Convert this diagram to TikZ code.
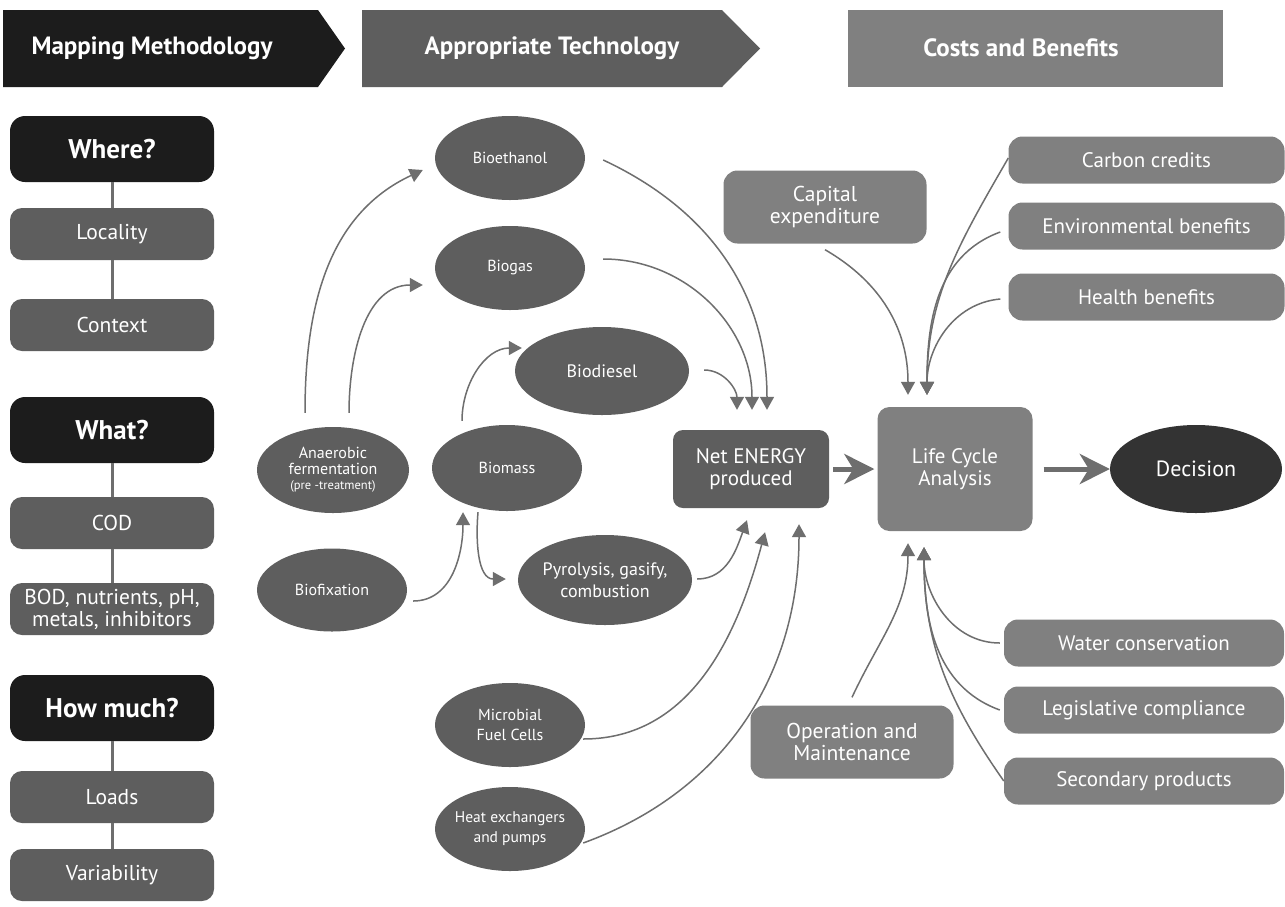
\documentclass[tikz,border=0pt]{standalone}
\usepackage{fontspec}
\setmainfont{PT Sans}
\usepackage{tikz}
\usetikzlibrary{arrows.meta}
\usetikzlibrary{shapes.geometric}
\usetikzlibrary{positioning}

\definecolor{inkblack}{HTML}{1C1C1C}
\definecolor{darkgrey}{HTML}{5E5E5E}
\definecolor{midgrey}{HTML}{808080}
\definecolor{coalgrey}{HTML}{333333}
\definecolor{linegrey}{HTML}{6E6E6E}

\begin{document}
\begin{tikzpicture}[x=1pt, y=1pt, text=white,
    banner/.style={font=\bfseries\fontsize{25}{27}\selectfont},
    askbox/.style={fill=inkblack, rounded corners=15pt, minimum width=204pt, minimum height=66pt, inner sep=0pt, font=\bfseries\fontsize{27}{29}\selectfont},
    factbox/.style={fill=darkgrey, rounded corners=12pt, minimum width=204pt, minimum height=52pt, inner sep=0pt, align=center, font=\fontsize{21.5}{22}\selectfont},
    blob/.style={ellipse, fill=darkgrey, minimum width=150pt, minimum height=84pt, inner sep=-6pt, align=center, font=\fontsize{16}{20}\selectfont},
    costbox/.style={fill=midgrey, rounded corners=14pt, minimum width=203pt, minimum height=73pt, inner sep=0pt, align=center, font=\fontsize{21.5}{22}\selectfont},
    gainbox/.style={fill=midgrey, rounded corners=14pt, minimum width=276pt, minimum height=47pt, inner sep=0pt, font=\fontsize{21}{22}\selectfont},
    feed/.style={draw=linegrey, line width=1.5pt, -{Triangle[length=13pt,width=14pt]}},
    bigfeed/.style={draw=linegrey, line width=5pt, -{Stealth[length=30pt,width=30pt,inset=9pt]}},
    stem/.style={draw=linegrey, line width=3pt}]
  \path[fill=white, use as bounding box] (0,0) rectangle (1285,-906);

  \fill[inkblack] (3,-10) -- (318,-10) -- (345,-48.5) -- (318,-87) -- (3,-87) -- cycle;
  \node[banner] (mapping) at (152,-48) {Mapping Methodology};
  \fill[darkgrey] (362,-10) -- (722,-10) -- (760,-48.5) -- (722,-87) -- (362,-87) -- cycle;
  \node[banner] (approp) at (552,-48) {Appropriate Technology};
  \fill[midgrey] (848,-10) rectangle (1223,-87);
  \node[banner] (costs) at (1021,-48) {Costs and Benefits};

  \foreach \n/\y/\t in {where/149/Where?, what/430/What?, howmuch/708/How much?}{
    \node[askbox] (\n) at (112,-\y) {\t};
  }
  \foreach \n/\y/\t in {locality/234/Locality, context/325/Context, cod/523/COD,
      bod/609/{BOD, nutrients, pH,\\metals, inhibitors}, loads/797/Loads, variab/875/Variability}{
    \node[factbox] (\n) at (112,-\y) {\t};
  }
  \foreach \a/\b in {where/locality, locality/context, what/cod, cod/bod, howmuch/loads, loads/variab}{
    \draw[stem] (\a.south) -- (\b.north);
  }

  \node[blob] (etoh) at (510,-158) {Bioethanol};
  \node[blob] (biogas) at (510,-268) {Biogas};
  \node[blob, minimum width=174pt, minimum height=88pt, font=\fontsize{18}{20}\selectfont] (diesel) at (602,-371) {Biodiesel};
  \node[blob, minimum width=152pt, minimum height=86pt, font=\fontsize{16}{15.5}\selectfont] (anaer) at (333,-470)
    {Anaerobic\\fermentation\\{\fontsize{12.5}{13}\selectfont(pre -treatment)}};
  \node[blob, minimum height=86pt] (biomass) at (507,-468) {Biomass};
  \node[blob, minimum height=83pt] (biofix) at (332,-590) {Biofixation};
  \node[blob, minimum width=174pt, minimum height=90pt, font=\fontsize{18}{22}\selectfont] (pyro) at (605,-580) {Pyrolysis, gasify,\\combustion};
  \node[blob] (mfc) at (510,-725) {Microbial\\Fuel Cells};
  \node[blob, font=\fontsize{15.5}{20}\selectfont] (heatex) at (510,-829) {Heat exchangers\\and pumps};

  \node[fill=darkgrey, rounded corners=10pt, minimum width=156pt, minimum height=78pt, inner sep=0pt, align=center,
    font=\fontsize{21}{22}\selectfont] (net) at (751,-469) {Net ENERGY\\produced};
  \node[fill=midgrey, rounded corners=12pt, minimum width=155pt, minimum height=124pt, inner sep=0pt, align=center,
    font=\fontsize{21}{22}\selectfont] (lca) at (955,-469) {Life Cycle\\Analysis};
  \node[ellipse, fill=coalgrey, minimum width=172pt, minimum height=88pt, inner sep=0pt,
    font=\fontsize{22}{24}\selectfont] (decision) at (1196,-469) {Decision};
  \node[costbox] (capex) at (825,-207) {Capital\\expenditure};
  \node[costbox] (opmaint) at (852,-742) {Operation and\\Maintenance};

  \foreach \n/\y/\t in {carbon/160/Carbon credits, envir/226/Environmental benefits, health/297/Health benefits}{
    \node[gainbox] (\n) at (1146.5,-\y) {\t};
  }
  \foreach \n/\y/\t in {water/643/Water conservation, legis/710/Legislative compliance, second/781/Secondary products}{
    \node[gainbox, minimum width=280pt] (\n) at (1144,-\y) {\t};
  }

  \draw[feed] ([shift={(-28,14)}]anaer.north) to[out=90,in=205] ([shift={(-12,-12)}]etoh.west);
  \draw[feed] ([shift={(16,14)}]anaer.north) to[out=90,in=180] ([shift={(-12,-17)}]biogas.west);
  \draw[feed] ([shift={(-45,4)}]biomass.north) to[out=90,in=180] ([shift={(7,23)}]diesel.west);
  \draw[feed] ([shift={(6,-11)}]biofix.east) to[out=0,in=-90] ([shift={(-44,-1)}]biomass.south);
  \draw[feed] ([shift={(-29,-1)}]biomass.south) to[out=-95,in=180] ([shift={(-12,1)}]pyro.west);

  \draw[feed] ([shift={(18,-2)}]etoh.east) to[out=-25,in=90] ([shift={(16,20)}]net.north);
  \draw[feed] ([shift={(18,9)}]biogas.east) to[out=0,in=90] ([shift={(1,20)}]net.north);
  \draw[feed] ([shift={(15,1)}]diesel.east) to[out=0,in=90] ([shift={(-14,20)}]net.north);
  \draw[feed] ([shift={(5,1)}]pyro.east) to[out=0,in=250] ([shift={(-4,-12)}]net.south);
  \draw[feed] ([shift={(-2,-14)}]mfc.east) to[out=0,in=255] ([shift={(14,-24)}]net.south);
  \draw[feed] ([shift={(-2,-14)}]heatex.east) to[out=20,in=270] ([shift={(48,-16)}]net.south);

  \draw[feed] ([shift={(0,-6)}]capex.south) to[out=-30,in=90] ([shift={(-47,12)}]lca.north);
  \foreach \n/\dx/\dy/\o in {carbon/0/2/240, envir/-8/-6/200, health/-8/-2/185}{
    \draw[feed] ([shift={(\dx,\dy)}]\n.west) to[out=\o,in=90] ([shift={(-28,12)}]lca.north);
  }
  \draw[feed] ([shift={(0,8)}]opmaint.north) to[out=65,in=-90] ([shift={(-47,-12)}]lca.south);
  \foreach \n/\dx/\o in {water/-4/180, legis/-4/160, second/0/125}{
    \draw[feed] ([shift={(\dx,0)}]\n.west) to[out=\o,in=-90] ([shift={(-31,-16)}]lca.south);
  }

  \draw[bigfeed] ([xshift=4pt]net.east) -- ([xshift=-3pt]lca.west);
  \draw[bigfeed] ([xshift=11pt]lca.east) -- (decision.west);
\end{tikzpicture}
\end{document}
